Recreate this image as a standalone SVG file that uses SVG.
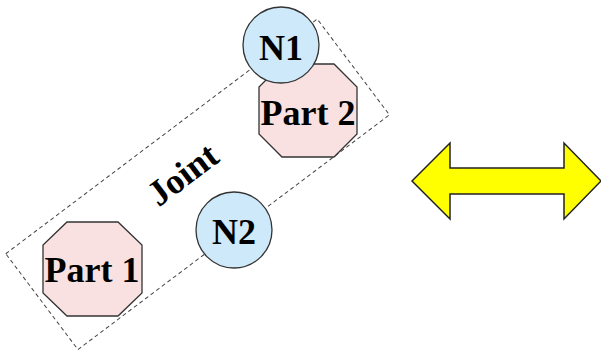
<svg xmlns="http://www.w3.org/2000/svg" width="601" height="354" viewBox="0 0 601 354">
  <style>
    .lbl { font-family: "Liberation Serif", "Times New Roman", serif; font-weight: bold; font-size: 36px; fill: #000; text-anchor: middle; }
    .part { fill: #f9e1e1; stroke: #333; stroke-width: 1.3; }
    .node { fill: #cde9fa; stroke: #333; stroke-width: 1.3; }
    .joint { fill: none; stroke: #444; stroke-width: 1; stroke-dasharray: 4 3; }
    .arrow { fill: #ffff00; stroke: #222; stroke-width: 1.5; stroke-linejoin: miter; }
  </style>
  <rect width="601" height="354" fill="#ffffff"/>

  <!-- joint boundary: dashed box tilted along the part axis -->
  <g id="joint">
    <rect class="joint" x="-195" y="-60" width="390" height="120" transform="translate(197.6 184.3) rotate(-37)"/>
    <text class="lbl" transform="translate(190 184) rotate(-37)">Joint</text>
  </g>

  <!-- parts: octagons -->
  <g id="part1">
    <polygon class="part" points="67,222 118,222 142,245 142,293 118,316 67,316 43,293 43,245"/>
    <text class="lbl" x="92" y="282">Part 1</text>
  </g>
  <g id="part2">
    <polygon class="part" points="282,64 334,64 357,87 357,134 334,157 282,157 259,134 259,87"/>
    <text class="lbl" x="308" y="125">Part 2</text>
  </g>

  <!-- nodes: circles -->
  <g id="n1">
    <circle class="node" cx="281" cy="45" r="38"/>
    <text class="lbl" x="281" y="59.5">N1</text>
  </g>
  <g id="n2">
    <circle class="node" cx="234" cy="230" r="38"/>
    <text class="lbl" x="234" y="243.5">N2</text>
  </g>

  <!-- double-headed block arrow -->
  <g id="arrow">
    <polygon class="arrow" points="412,181 450,143 450,168 564,168 564,143 601,181 564,219 564,194 450,194 450,219"/>
  </g>
</svg>
